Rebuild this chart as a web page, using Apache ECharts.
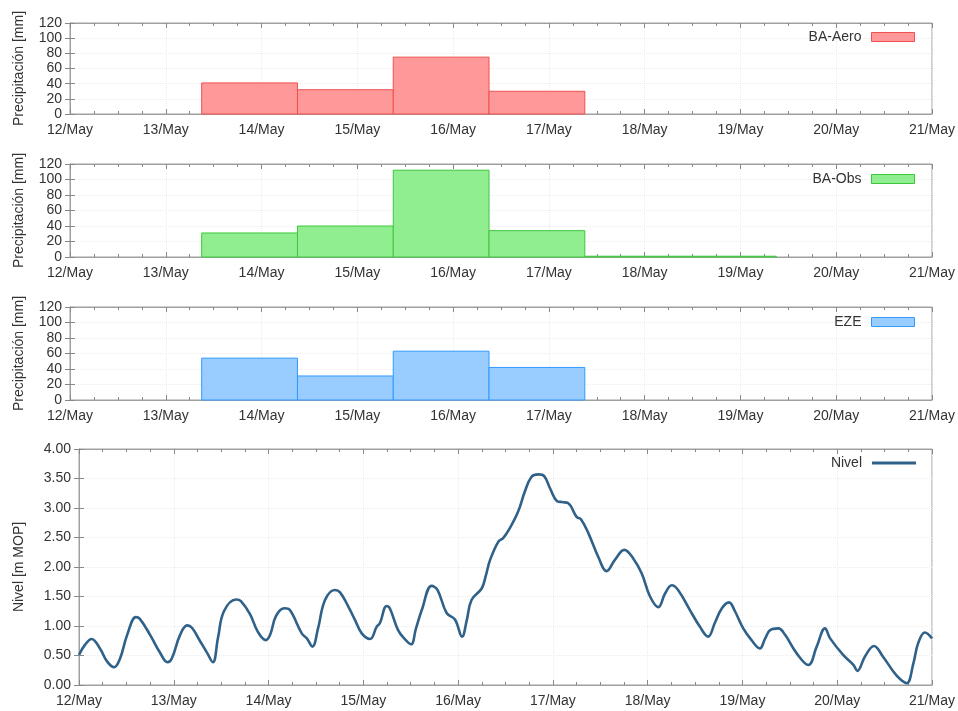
<!DOCTYPE html>
<html>
<head>
<meta charset="utf-8">
<script src="https://cdn.jsdelivr.net/npm/echarts@6/dist/echarts.min.js"></script>
<style>
  html, body { margin: 0; padding: 0; background: #fff; }
  #chart { width: 958px; height: 711px; }
</style>
</head>
<body>
<div id="chart"></div>
<script>
// Day labels for the shared time axis (hours since 12/May 00h)
const dayLabels = ['12/May', '13/May', '14/May', '15/May', '16/May', '17/May', '18/May', '19/May', '20/May', '21/May'];

// Daily precipitation accumulations, each period starting at 09h (hours since 12/May 00h)
const precipStartHour = [33, 57, 81, 105, 129, 153];
const baAero = [41, 32, 75, 30];
const baObs = [31, 40, 112, 34, 1, 1];
const eze = [54, 31, 63, 42];

// River level (m MOP)
const nivelHour = [
  0, 1.5, 3.2, 5.3, 7.1, 8.9, 10.4, 12.2, 14.4, 15.4, 18.0, 20.5, 22.4, 23.5,
  25.6, 27.4, 28.6, 30.6, 32.4, 33.9, 35.2, 36.7, 39.8, 41.0, 43.3, 45.3, 47.3,
  48.4, 49.9, 52.0, 53.4, 56.4, 57.7, 59.1, 60.5, 62.3, 64.8, 66.1, 68.2, 69.9,
  71.6, 73.7, 75.4, 76.2, 77.9, 78.7, 80.8, 82.5, 84.1, 85.3, 86.8, 89.3, 90.8,
  93.1, 95.2, 97.0, 98.2, 99.4, 102.0, 103.0, 104.1, 106.2, 107.4, 109.1, 111.2,
  112.9, 114.6, 116.3, 117.8, 119.3, 121.0, 122.3, 123.9, 126.0, 127.1, 129.0,
  131.5, 133.6, 135.7, 138.1, 140.3, 142.5, 144.6, 146.7, 148.4, 150.1, 151.7,
  154.7, 157.2, 159.3, 161.0, 162.8, 164.6, 166.1, 168.2, 170.3, 172.4, 173.7,
  175.0, 177.1, 178.8, 181.7, 184.7, 186.8, 188.9, 190.2, 193.5, 196.1, 197.1,
  199.0, 201.3, 203.6, 206.2, 207.9, 209.6, 211.3, 212.5, 214.2, 216.0
];
const nivelValue = [
  0.51, 0.68, 0.78, 0.62, 0.40, 0.30, 0.45, 0.85, 1.15, 1.12, 0.85, 0.55, 0.385, 0.45,
  0.85, 1.01, 0.97, 0.75, 0.55, 0.385, 0.80, 1.25, 1.45, 1.42, 1.20, 0.90, 0.76,
  0.85, 1.17, 1.30, 1.27, 0.875, 0.79, 0.65, 0.95, 1.44, 1.61, 1.57, 1.33, 1.10,
  0.875, 0.78, 0.99, 1.05, 1.34, 1.30, 0.93, 0.78, 0.69, 0.95, 1.27, 1.68, 1.61,
  1.22, 1.11, 0.82, 1.10, 1.44, 1.64, 1.85, 2.12, 2.43, 2.49, 2.66, 2.94,
  3.28, 3.53, 3.57, 3.54, 3.33, 3.12, 3.10, 3.08, 2.85, 2.81, 2.57,
  2.17, 1.93, 2.12, 2.29, 2.15, 1.89, 1.50, 1.32, 1.55, 1.69, 1.61,
  1.27, 0.99, 0.82, 1.05, 1.30, 1.40, 1.25, 0.96, 0.76, 0.62, 0.78,
  0.93, 0.96, 0.85, 0.54, 0.34, 0.65, 0.96, 0.79, 0.51, 0.34, 0.24,
  0.48, 0.66, 0.48, 0.23, 0.10, 0.03, 0.37, 0.71, 0.89, 0.79
];

const FONT = '"Liberation Sans", Arial, sans-serif';
const TXT = '#333';
const BORDER = '#a0a0a0';

const grids = [
  { left: 70, right: 26, top: 23, height: 91 },
  { left: 70, right: 26, top: 164, height: 93 },
  { left: 70, right: 26, top: 307, height: 93 },
  { left: 79, right: 26, top: 449, height: 236 }
].map(g => Object.assign({ show: true, borderColor: BORDER, borderWidth: 1, backgroundColor: 'transparent' }, g));

const xAxes = [];
const yAxes = [];
grids.forEach((g, i) => {
  // bottom axis with labels
  xAxes.push({
    gridIndex: i, type: 'value', min: 0, max: 216, interval: 24, position: 'bottom',
    axisLine: { show: true, onZero: false, lineStyle: { color: BORDER } },
    axisTick: { show: true, inside: true, length: 5, lineStyle: { color: '#888' } },
    minorTick: { show: true, splitNumber: 4, length: 3, lineStyle: { color: '#888' } },
    axisLabel: { color: TXT, fontFamily: FONT, fontSize: 14, margin: 9,
      formatter: v => dayLabels[Math.round(v / 24)] },
    splitLine: { show: true, lineStyle: { color: '#ececec', type: 'dotted' } }
  });
  // mirrored ticks on the top edge
  xAxes.push({
    gridIndex: i, type: 'value', min: 0, max: 216, interval: 24, position: 'top',
    axisLine: { show: true, onZero: false, lineStyle: { color: BORDER } },
    axisTick: { show: true, inside: true, length: 5, lineStyle: { color: '#888' } },
    minorTick: { show: true, splitNumber: 4, length: 3, lineStyle: { color: '#888' } },
    axisLabel: { show: false }, splitLine: { show: false }
  });
  const isLevel = i === 3;
  const yBase = {
    gridIndex: i, type: 'value', min: 0,
    max: isLevel ? 4 : 120, interval: isLevel ? 0.5 : 20
  };
  yAxes.push(Object.assign({}, yBase, {
    position: 'left',
    name: isLevel ? 'Nivel [m MOP]' : 'Precipitación [mm]',
    nameLocation: 'middle', nameGap: isLevel ? 53 : 44,
    nameTextStyle: { color: TXT, fontFamily: FONT, fontSize: 14 },
    axisLine: { show: true, lineStyle: { color: BORDER } },
    axisTick: { show: true, inside: true, length: 5, lineStyle: { color: '#888' } },
    axisLabel: { color: TXT, fontFamily: FONT, fontSize: 14, margin: 8,
      formatter: v => isLevel ? v.toFixed(2) : String(v) },
    splitLine: { show: true, lineStyle: { color: '#ececec', type: 'dotted' } }
  }));
  yAxes.push(Object.assign({}, yBase, {
    position: 'right',
    axisLine: { show: true, lineStyle: { color: BORDER } },
    axisTick: { show: true, inside: true, length: 5, lineStyle: { color: '#888' } },
    axisLabel: { show: false }, splitLine: { show: false }
  }));
});

function precipSeries(name, values, gridIdx, fill, stroke) {
  const rows = values.map((v, k) => [precipStartHour[k], precipStartHour[k] + 24, v]);
  return {
    name, type: 'custom',
    xAxisIndex: gridIdx * 2, yAxisIndex: gridIdx * 2,
    itemStyle: { color: fill, borderColor: stroke },
    encode: { x: [0, 1], y: 2 },
    data: rows,
    renderItem: (params, api) => {
      const p0 = api.coord([api.value(0), 0]);
      const p1 = api.coord([api.value(1), api.value(2)]);
      return {
        type: 'rect',
        shape: { x: p0[0], y: p1[1], width: p1[0] - p0[0], height: p0[1] - p1[1] },
        style: { fill, stroke, lineWidth: 1 }
      };
    }
  };
}

const legendBase = {
  right: 43, padding: 0, orient: 'vertical', align: 'right',
  textStyle: { color: TXT, fontFamily: FONT, fontSize: 14, padding: [0, 5, 0, 0] },
  selectedMode: false
};

const precipLegend = (name, top, fill, stroke) => Object.assign({}, legendBase, {
  top, itemWidth: 43, itemHeight: 9,
  data: [{ name, icon: 'rect', itemStyle: { color: fill, borderColor: stroke, borderWidth: 1 } }]
});

const RED_FILL = '#ff9999', RED_LINE = '#f05050';
const GREEN_FILL = '#90ee90', GREEN_LINE = '#3cc83c';
const BLUE_FILL = '#99ccff', BLUE_LINE = '#3399ff';
const LINE_COLOR = '#2f6189';

const option = {
  animation: false,
  backgroundColor: '#fff',
  grid: grids,
  xAxis: xAxes,
  yAxis: yAxes,
  legend: [
    precipLegend('BA-Aero', 30, RED_FILL, RED_LINE),
    precipLegend('BA-Obs', 172, GREEN_FILL, GREEN_LINE),
    precipLegend('EZE', 315, BLUE_FILL, BLUE_LINE),
    Object.assign({}, legendBase, {
      top: 456, right: 42, itemWidth: 44, itemHeight: 3,
      data: [{ name: 'Nivel', icon: 'rect', itemStyle: { color: LINE_COLOR, borderWidth: 0 } }]
    })
  ],
  series: [
    precipSeries('BA-Aero', baAero, 0, RED_FILL, RED_LINE),
    precipSeries('BA-Obs', baObs, 1, GREEN_FILL, GREEN_LINE),
    precipSeries('EZE', eze, 2, BLUE_FILL, BLUE_LINE),
    {
      name: 'Nivel', type: 'line', xAxisIndex: 6, yAxisIndex: 6,
      symbol: 'none', smooth: 0.4,
      lineStyle: { color: LINE_COLOR, width: 2.6 },
      itemStyle: { color: LINE_COLOR },
      data: nivelHour.map((h, k) => [h, nivelValue[k]])
    }
  ]
};

const chart = echarts.init(document.getElementById('chart'), null, { renderer: 'canvas' });
chart.setOption(option);
</script>
</body>
</html>
